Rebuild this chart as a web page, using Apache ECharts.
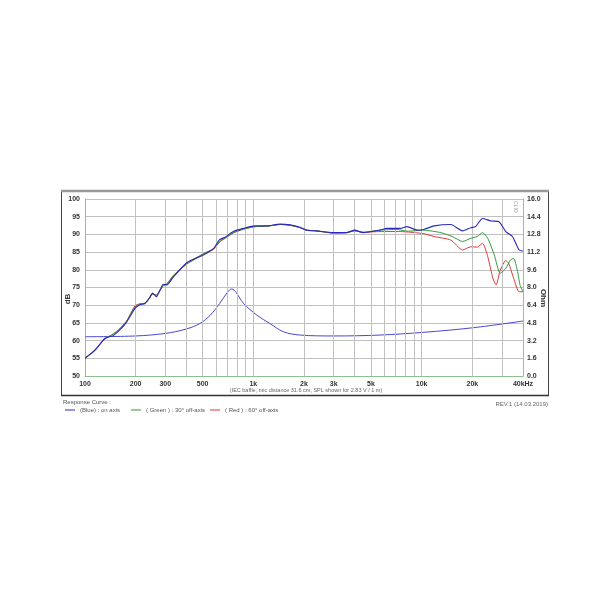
<!DOCTYPE html>
<html><head><meta charset="utf-8">
<script src="https://cdn.jsdelivr.net/npm/echarts@6/dist/echarts.min.js"></script>
<style>html,body{margin:0;padding:0;background:#fff}#c{width:610px;height:610px}</style>
</head><body><div id="c"></div>
<script>
const xTickLabels = [100,200,300,500,1000,2000,3000,5000,10000,20000,40000];
const xGridLines = [200,300,400,500,600,700,800,900,1000,2000,3000,4000,5000,6000,7000,8000,9000,10000,20000,30000];

const blueFreq = [100,115,131,147,161,177,198,212,227,241,252,266,279,292,306,335,402,451,505,580,630,680,761,874,1025,1200,1440,1650,1895,2070,2370,2975,3570,4000,4490,5650,6200,7460,8190,9400,10300,11850,14900,17500,19600,20900,23000,25800,28800,31600,34600,37900,40000];
const blueDb   = [55,57.3,60.6,61.4,63,65.3,69.1,70.1,70.5,72,73.4,72.4,74.3,75.9,75.7,78,82,83.2,84.2,86,88.5,89.2,90.8,91.7,92.4,92.4,92.9,92.7,92,91.2,91,90.5,90.5,91.2,90.5,91.2,91.7,91.7,92.2,91.2,91.4,92.4,92.8,91,91.9,92.2,94.5,93.8,93.6,90.8,89.4,85.6,85.3];

const greenFreq = [100,115,131,147,161,177,198,212,227,241,252,266,279,292,306,335,402,451,505,580,630,680,761,874,1025,1200,1440,1650,1895,2070,2370,2975,3570,4000,4490,5650,7130,8190,10300,13000,15200,17500,19600,21400,23000,24700,27000,29300,31600,33700,35200,37000,38400,40000];
const greenDb   = [55,57.5,60.5,61.8,63.3,65.5,69.6,70.3,70.6,72,73.2,72.8,74.2,75.6,75.9,78.3,81.7,83,84.5,86,88,89,90.5,91.5,92.2,92.3,92.8,92.6,91.9,91.2,91,90.4,90.5,91,90.6,91.2,91.4,90.9,91.2,90.5,89.4,88,88.9,89.4,90.5,88.9,84.2,79,80.4,82.8,83.2,79.9,75.7,73.8];

const redFreq = [100,115,131,147,161,177,198,212,227,241,252,266,279,292,306,335,402,451,505,580,630,680,761,874,1025,1200,1440,1650,1895,2070,2370,2975,3570,4000,4490,5650,7460,10300,11850,14900,17500,19600,21400,23000,24700,26500,27700,29300,31600,32900,35200,37900,40000];
const redDb   = [55,57.4,60.4,61.9,63.4,65.6,69.8,70.4,70.5,71.9,73.1,72.9,74.1,75.5,76,78.4,81.6,83.1,84.6,85.8,87.8,88.9,90.4,91.5,92.2,92.3,92.8,92.6,91.9,91.2,91,90.4,90.5,91,90.6,90.8,90.8,90.2,89.4,88.4,85.6,86.5,86.4,87.5,83.7,77.6,75.7,79.9,82.6,81.8,77.6,73.8,73.8];

const impFreq = [100,200,300,400,483,555,632,700,745,790,874,1050,1250,1510,1900,3000,5650,10300,20400,40000];
const impOhm  = [3.55,3.62,3.85,4.25,4.76,5.5,6.57,7.55,7.87,7.55,6.57,5.5,4.76,4.0,3.7,3.62,3.7,3.95,4.37,4.97];

const seriesNames = ['(Blue) : on axis','( Green ) : 30° off-axis','( Red ) : 60° off-axis'];

function zip(a,b){return a.map((v,i)=>[v,b[i]]);}
function fmtF(v){ if(v===40000) return '40kHz'; if(v>=1000) return (v/1000)+'k'; return String(v); }

const F = 'Liberation Sans, Arial, sans-serif';
const chart = echarts.init(document.getElementById('c'), null, {renderer:'canvas'});
const lbl = {fontFamily:F,fontSize:7,fontWeight:'bold',color:'#333'};
const legendBase = {top:407,padding:0,itemWidth:10,itemHeight:1,icon:'rect',itemGap:4,textStyle:{fontFamily:F,fontSize:6,color:'#555'},selectedMode:false};

chart.setOption({
  animation:false,
  backgroundColor:'#fff',
  grid:{left:85,top:199,width:438,height:177,containLabel:false},
  xAxis:{type:'log',logBase:10,min:100,max:40000,
    axisLine:{show:true,lineStyle:{color:'#8fbf8f',width:1}},
    axisTick:{show:false},
    splitLine:{show:false},
    axisLabel:Object.assign({customValues:xTickLabels,formatter:fmtF,margin:5,showMinLabel:true,showMaxLabel:true},lbl)
  },
  yAxis:[
    {type:'value',min:50,max:100,interval:5,position:'left',
     axisLine:{show:true,lineStyle:{color:'#8fbf8f'}},axisTick:{show:false},
     splitLine:{show:true,lineStyle:{color:'#c0c0c0',width:1}},
     axisLabel:Object.assign({margin:5},lbl)},
    {type:'value',min:0,max:16,interval:1.6,position:'right',
     axisLine:{show:true,lineStyle:{color:'#b0b0b0'}},axisTick:{show:false},
     splitLine:{show:false},
     axisLabel:Object.assign({margin:4,formatter:v=>v.toFixed(1)},lbl)}
  ],
  legend:[
    Object.assign({left:65,data:[seriesNames[0]]},legendBase),
    Object.assign({left:131,data:[seriesNames[1]]},legendBase),
    Object.assign({left:210,data:[seriesNames[2]]},legendBase)
  ],
  graphic:[
    {type:'rect',shape:{x:61.5,y:191.5,width:487,height:204},style:{fill:null,stroke:'#444',lineWidth:1},silent:true},
    {type:'line',shape:{x1:61,y1:191,x2:549,y2:191},style:{stroke:'#999',lineWidth:2.5},silent:true},
    {type:'line',shape:{x1:61,y1:395.5,x2:549,y2:395.5},style:{stroke:'#333',lineWidth:1.5},silent:true},
    {type:'text',x:68,y:299,rotation:Math.PI/2,style:{text:'dB',fontFamily:F,fontSize:8,fontWeight:'bold',fill:'#333',align:'center',verticalAlign:'middle'}},
    {type:'text',x:543,y:298,rotation:-Math.PI/2,style:{text:'Ohm',fontFamily:F,fontSize:8,fontWeight:'bold',fill:'#333',align:'center',verticalAlign:'middle'}},
    {type:'text',x:306,y:390,style:{text:'(IEC baffle, mic distance 31.6 cm, SPL shown for 2.83 V / 1 m)',fontFamily:F,fontSize:5.5,fill:'#666',align:'center',verticalAlign:'middle'}},
    {type:'text',x:63,y:402,style:{text:'Response Curve :',fontFamily:F,fontSize:6,fill:'#555',verticalAlign:'middle'}},
    {type:'text',x:548,y:404,style:{text:'REV.1 (14.03.2019)',fontFamily:F,fontSize:6,fill:'#666',align:'right',verticalAlign:'middle'}},
    {type:'text',x:518,y:201,rotation:-Math.PI/2,style:{text:'CLIO',fontFamily:F,fontSize:5,fill:'#999',verticalAlign:'top'}}
  ],
  series:[
    {type:'line',name:'grid',data:[],silent:true,
     markLine:{silent:true,symbol:['none','none'],label:{show:false},
       lineStyle:{color:'#c0c0c0',width:1,type:'solid'},emphasis:{disabled:true},
       data:xGridLines.map(v=>({xAxis:v}))}},
    {type:'line',name:'Impedance',yAxisIndex:1,data:zip(impFreq,impOhm),showSymbol:false,smooth:0.35,
     lineStyle:{color:'#4848d0',width:1},itemStyle:{color:'#4848d0'},z:3},
    {type:'line',name:seriesNames[2],data:zip(redFreq,redDb),showSymbol:false,smooth:0.2,
     lineStyle:{color:'#e0383a',width:1},itemStyle:{color:'#e0383a'},z:4},
    {type:'line',name:seriesNames[1],data:zip(greenFreq,greenDb),showSymbol:false,smooth:0.2,
     lineStyle:{color:'#2e9a3a',width:1},itemStyle:{color:'#2e9a3a'},z:5},
    {type:'line',name:seriesNames[0],data:zip(blueFreq,blueDb),showSymbol:false,smooth:0.2,
     lineStyle:{color:'#2a2ab8',width:1.1},itemStyle:{color:'#2a2ab8'},z:6}
  ]
});
</script></body></html>
